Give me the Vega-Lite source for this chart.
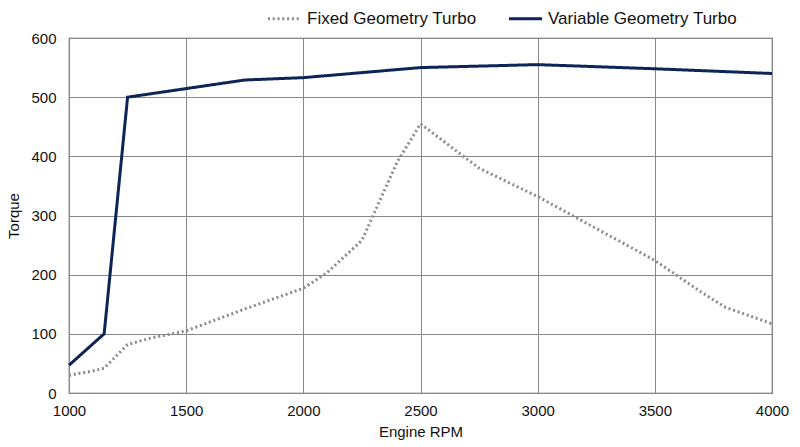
{
  "$schema": "https://vega.github.io/schema/vega-lite/v6.json",
  "width": 703,
  "height": 355,
  "autosize": {"type": "none"},
  "padding": {"left": 69, "top": 38, "right": 28, "bottom": 54},
  "background": "white",
  "config": {
    "font": "Liberation Sans",
    "view": {"stroke": "#555555", "strokeWidth": 1.2}
  },
  "data": {
    "values": [
      {"rpm": 1000, "torque": 30, "series": "Fixed Geometry Turbo"},
      {"rpm": 1100, "torque": 37, "series": "Fixed Geometry Turbo"},
      {"rpm": 1150, "torque": 42, "series": "Fixed Geometry Turbo"},
      {"rpm": 1200, "torque": 62, "series": "Fixed Geometry Turbo"},
      {"rpm": 1250, "torque": 82, "series": "Fixed Geometry Turbo"},
      {"rpm": 1350, "torque": 93, "series": "Fixed Geometry Turbo"},
      {"rpm": 1500, "torque": 105, "series": "Fixed Geometry Turbo"},
      {"rpm": 1750, "torque": 142, "series": "Fixed Geometry Turbo"},
      {"rpm": 2000, "torque": 177, "series": "Fixed Geometry Turbo"},
      {"rpm": 2100, "torque": 203, "series": "Fixed Geometry Turbo"},
      {"rpm": 2250, "torque": 258, "series": "Fixed Geometry Turbo"},
      {"rpm": 2300, "torque": 302, "series": "Fixed Geometry Turbo"},
      {"rpm": 2400, "torque": 390, "series": "Fixed Geometry Turbo"},
      {"rpm": 2500, "torque": 455, "series": "Fixed Geometry Turbo"},
      {"rpm": 2750, "torque": 380, "series": "Fixed Geometry Turbo"},
      {"rpm": 3000, "torque": 332, "series": "Fixed Geometry Turbo"},
      {"rpm": 3500, "torque": 224, "series": "Fixed Geometry Turbo"},
      {"rpm": 3700, "torque": 170, "series": "Fixed Geometry Turbo"},
      {"rpm": 3800, "torque": 145, "series": "Fixed Geometry Turbo"},
      {"rpm": 4000, "torque": 117, "series": "Fixed Geometry Turbo"},
      {"rpm": 1000, "torque": 47, "series": "Variable Geometry Turbo"},
      {"rpm": 1150, "torque": 100, "series": "Variable Geometry Turbo"},
      {"rpm": 1250, "torque": 500, "series": "Variable Geometry Turbo"},
      {"rpm": 1750, "torque": 529, "series": "Variable Geometry Turbo"},
      {"rpm": 2000, "torque": 533, "series": "Variable Geometry Turbo"},
      {"rpm": 2500, "torque": 550, "series": "Variable Geometry Turbo"},
      {"rpm": 3000, "torque": 555, "series": "Variable Geometry Turbo"},
      {"rpm": 3500, "torque": 548, "series": "Variable Geometry Turbo"},
      {"rpm": 4000, "torque": 540, "series": "Variable Geometry Turbo"}
    ]
  },
  "mark": {"type": "line", "strokeWidth": 3, "interpolate": "linear"},
  "encoding": {
    "x": {
      "field": "rpm",
      "type": "quantitative",
      "title": "Engine RPM",
      "scale": {"domain": [1000, 4000], "nice": false},
      "axis": {
        "values": [1000, 1500, 2000, 2500, 3000, 3500, 4000],
        "format": "d",
        "labelFlush": false,
        "labelOverlap": false,
        "ticks": false,
        "domain": false,
        "grid": true,
        "gridColor": "#888888",
        "gridOpacity": 1,
        "labelFontSize": 15,
        "labelColor": "#111111",
        "labelPadding": 10,
        "titleFontSize": 15,
        "titleFontWeight": "normal",
        "titleColor": "#111111",
        "titlePadding": 6
      }
    },
    "y": {
      "field": "torque",
      "type": "quantitative",
      "title": "Torque",
      "scale": {"domain": [0, 600], "nice": false},
      "axis": {
        "values": [0, 100, 200, 300, 400, 500, 600],
        "labelFlush": false,
        "labelOverlap": false,
        "ticks": false,
        "domain": false,
        "grid": true,
        "gridColor": "#888888",
        "gridOpacity": 1,
        "labelFontSize": 15,
        "labelColor": "#111111",
        "labelPadding": 13,
        "titleFontSize": 15,
        "titleFontWeight": "normal",
        "titleColor": "#111111",
        "titlePadding": 9
      }
    },
    "color": {
      "field": "series",
      "type": "nominal",
      "scale": {
        "domain": ["Fixed Geometry Turbo", "Variable Geometry Turbo"],
        "range": ["#8a8a8a", "#0d2456"]
      },
      "legend": {
        "title": null,
        "orient": "none",
        "legendX": 197,
        "legendY": -38,
        "direction": "horizontal",
        "symbolType": "stroke",
        "symbolSize": 1100,
        "symbolStrokeWidth": 3,
        "labelFontSize": 17,
        "labelLimit": 400,
        "labelColor": "#111111",
        "labelOffset": 4,
        "columnPadding": 25
      }
    },
    "strokeDash": {
      "field": "series",
      "type": "nominal",
      "scale": {
        "domain": ["Fixed Geometry Turbo", "Variable Geometry Turbo"],
        "range": [[2, 2.8], [1, 0]]
      },
      "legend": null
    }
  }
}
